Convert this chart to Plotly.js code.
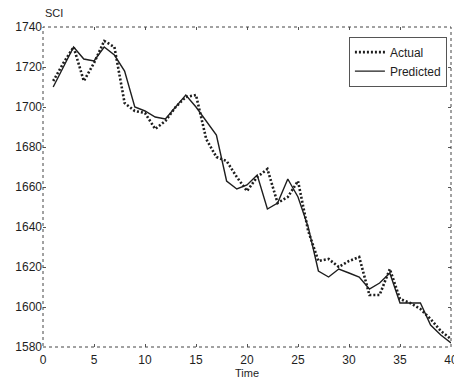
<!DOCTYPE html>
<html>
<head>
<meta charset="utf-8">
<script src="https://cdn.plot.ly/plotly-3.0.1.min.js"></script>
<style>html,body{margin:0;padding:0;background:#fff;}#chart{width:454px;height:380px;}</style>
</head>
<body>
<div id="chart"></div>
<script>
const time = [1,2,3,4,5,6,7,8,9,10,11,12,13,14,15,16,17,18,19,20,21,22,23,24,25,26,27,28,29,30,31,32,33,34,35,36,37,38,39,40];
const actual = [1713,1722,1730,1713,1722,1733,1730,1702,1698,1697,1689,1693,1700,1705,1706,1684,1675,1673,1665,1658,1665,1669,1652,1655,1663,1638,1623,1624,1620,1623,1625,1606,1606,1619,1604,1602,1599,1594,1588,1584];
const predicted = [1710,1720,1730,1724,1723,1730,1726,1718,1700,1698,1695,1694,1700,1706,1700,1693,1686,1663,1659,1661,1666,1649,1652,1664,1655,1640,1618,1615,1619,1617,1615,1609,1612,1617,1602,1602,1602,1591,1586,1582];
const xTicks = [0,5,10,15,20,25,30,35,40];
const yTicks = [1580,1600,1620,1640,1660,1680,1700,1720,1740];

const ink = '#1e1e1e';
const traces = [
  {x: time, y: actual, name: 'Actual', type: 'scatter', mode: 'lines',
   line: {color: ink, width: 2.6, dash: '2px,2px'}},
  {x: time, y: predicted, name: 'Predicted', type: 'scatter', mode: 'lines',
   line: {color: ink, width: 1.4}}
];
const fontFam = 'Liberation Sans, Arial, sans-serif';
const layout = {
  width: 454, height: 380,
  margin: {l: 43, r: 3, t: 27, b: 33},
  paper_bgcolor: '#fff', plot_bgcolor: '#fff',
  font: {family: fontFam, size: 12, color: ink},
  showlegend: true,
  legend: {x: 0.99, y: 0.97, xanchor: 'right', yanchor: 'top',
    bordercolor: '#555', borderwidth: 1, bgcolor: '#fff',
    font: {family: fontFam, size: 12, color: ink},
    tracegroupgap: 0, itemwidth: 30},
  xaxis: {range: [0, 40], tickvals: xTicks, ticktext: xTicks.map(String),
    ticks: 'inside', ticklen: 3, tickcolor: '#555', showgrid: false, zeroline: false,
    showline: false, mirror: 'ticks', ticklabeloverflow: 'allow', ticklabelstandoff: 4,
    title: {text: 'Time', font: {size: 11}, standoff: 0}, tickfont: {size: 12}},
  yaxis: {range: [1580, 1740], tickvals: yTicks, ticktext: yTicks.map(String),
    ticks: 'inside', ticklen: 3, tickcolor: '#555', showgrid: false, zeroline: false,
    showline: false, mirror: 'ticks', ticklabeloverflow: 'allow', tickfont: {size: 12}},
  shapes: [{type: 'rect', xref: 'paper', yref: 'paper', x0: 0, x1: 1, y0: 0, y1: 1,
    line: {color: '#444', width: 1, dash: 'dot'}}],
  annotations: [{text: 'SCI', xref: 'paper', yref: 'paper', x: 0, y: 1,
    xanchor: 'left', yanchor: 'bottom', yshift: 6, showarrow: false,
    font: {size: 11, color: ink}}]
};
Plotly.newPlot('chart', traces, layout, {displayModeBar: false, staticPlot: true});
</script>
</body>
</html>
